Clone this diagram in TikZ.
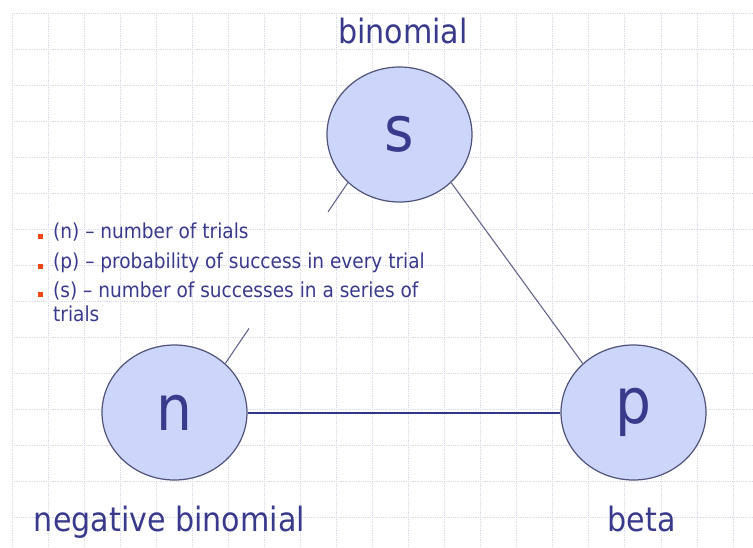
\documentclass[tikz,border=0pt]{standalone}
\usepackage{fontspec}
\setmainfont{DejaVu Sans Condensed}
\usetikzlibrary{shapes.geometric,calc}
\definecolor{gridc}{RGB}{218,218,238}
\definecolor{fillc}{RGB}{204,214,250}
\definecolor{edgec}{RGB}{80,82,120}
\definecolor{txtc}{RGB}{58,58,140}
\definecolor{linec}{RGB}{100,102,140}
\definecolor{thickc}{RGB}{52,52,140}
\definecolor{bulc}{RGB}{240,70,20}
\tikzset{
  gridline/.style={draw=gridc, line width=0.8pt, densely dotted},
  var/.style={ellipse, draw=edgec, line width=1.2pt, fill=fillc, minimum width=145pt, minimum height=135pt, inner sep=0pt, text=txtc, font=\fontsize{63}{63}\selectfont},
  lab/.style={anchor=base, text=txtc, font=\fontsize{33.5}{36}\selectfont, inner sep=0pt},
  itemtxt/.style={anchor=base west, text=txtc, font=\fontsize{20.6}{22}\selectfont, inner sep=0pt},
  bul/.style={fill=bulc, minimum size=5pt, inner sep=0pt, draw=none},
  thin/.style={draw=linec, line width=1.1pt},
  thick/.style={draw=thickc, line width=2pt}
}
\begin{document}
\begin{tikzpicture}[x=1pt,y=-1pt]
\useasboundingbox[fill=white] (0,0) rectangle (753,547);
\foreach \k in {0,...,20} \draw[gridline] ({12+36.05*\k},13) -- ({12+36.05*\k},547);
\foreach \k in {0,...,14} \draw[gridline] (12,{13+36.05*\k}) -- (753,{13+36.05*\k});

\node[var] (s) at (399.5,134.5) {s};
\node[var] (n) at (174.5,412.5) {n};
\node[var] (p) at (633.5,412.5) {p};

\node[lab] (ls) at (403,43) {binomial};
\node[lab] (ln) at (169.5,531) {negative binomial};
\node[lab] (lp) at (641.5,531) {beta};

\draw[thin] (s.317) -- (p.136);
\draw[thick] (n.east) -- (p.west);
\coordinate (g1) at ($(s.223)!0.161!(n.44)$);
\coordinate (g2) at ($(s.223)!0.806!(n.44)$);
\draw[thin] (s.223) -- (g1);
\draw[thin] (g2) -- (n.44);

\node[bul] (b1) at (40.8,236.3) {};
\node[bul] (b2) at (40.8,266) {};
\node[bul] (b3) at (40.8,294) {};
\node[itemtxt] (t1) at (53,238) {(n) – number of trials};
\node[itemtxt] (t2) at (53,268) {(p) – probability of success in every trial};
\node[itemtxt] (t3) at (53,297.5) {(s) – number of successes in a series of};
\node[itemtxt] (t4) at (53,321.5) {trials};
\end{tikzpicture}
\end{document}
